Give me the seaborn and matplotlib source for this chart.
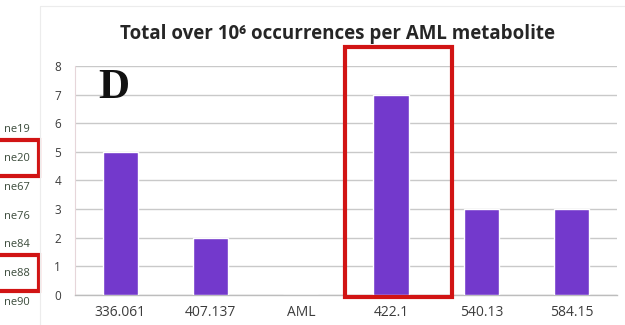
import matplotlib
matplotlib.use("Agg")
import matplotlib.pyplot as plt
import matplotlib.patches as mpatches
import numpy as np
import pandas as pd
import seaborn as sns

# Occurrence totals per AML metabolite (m/z)
metabolites = ["336.061", "407.137", "AML", "422.1", "540.13", "584.15"]
totals = [5, 2, 0, 7, 3, 3]
y_ticks = [0, 1, 2, 3, 4, 5, 6, 7, 8]

# Legend entries of the neighbouring panel (partly cut off at the left edge)
side_labels = ["ne19", "ne20", "ne67", "ne76", "ne84", "ne88", "ne90"]
side_highlight = ["ne20", "ne88"]
highlight_metabolite = "422.1"

BAR = "#7339cc"
RED = "#d11414"
GRID = "#c9c9c9"
TXT = "#3c3c3c"

sns.set_theme(style="white")
plt.rcParams["font.family"] = ["Open Sans", "DejaVu Sans"]

df = pd.DataFrame({"metabolite": metabolites, "total": totals})

fig = plt.figure(figsize=(6.25, 3.25), dpi=100)
ax = fig.add_axes([0.12, 0.0923, 0.867, 0.705])

sns.barplot(data=df, x="metabolite", y="total", color=BAR, saturation=1,
            width=0.39, ax=ax, zorder=3)

ax.set_ylim(0, 8)
ax.set_xlim(-0.5, len(metabolites) - 0.5)
ax.set_yticks(y_ticks)
ax.set_yticklabels([str(v) for v in y_ticks], fontsize=8.5, color=TXT)
ax.tick_params(axis="y", length=0, pad=10)
ax.tick_params(axis="x", length=0, pad=7, labelsize=10, labelcolor=TXT)
ax.set_xticks(range(len(metabolites)))
ax.set_xticks(np.arange(-0.5, len(metabolites), 1.0), minor=True)
ax.tick_params(axis="x", which="minor", length=3, color=GRID, direction="out")
ax.set_xlabel("")
ax.set_ylabel("")
ax.yaxis.grid(True, color=GRID, linewidth=1.0, zorder=0)
ax.set_axisbelow(True)
for side in ["top", "right"]:
    ax.spines[side].set_visible(False)
ax.spines["left"].set_color("#e6d6da")
ax.spines["left"].set_linewidth(0.8)
ax.spines["bottom"].set_color("#bdbdbd")
ax.spines["bottom"].set_linewidth(1.0)

# Chart frame
fig.add_artist(plt.Line2D([0.064, 0.064], [0.0, 0.982], transform=fig.transFigure,
                          color="#ececec", linewidth=0.8))
fig.add_artist(plt.Line2D([0.064, 1.0], [0.982, 0.982], transform=fig.transFigure,
                          color="#ececec", linewidth=0.8))

fig.text(0.54, 0.896, "Total over 10⁶ occurrences per AML metabolite",
         ha="center", va="center", fontsize=13.5, fontweight="bold", color="#262626",
         family=["Open Sans", "DejaVu Sans"])

fig.text(0.157, 0.698, "D", ha="left", va="baseline", fontsize=31,
         fontweight="bold", color="#111111", family=["Liberation Serif", "DejaVu Serif"])

# Highlight box around the selected metabolite
hi = metabolites.index(highlight_metabolite)
ax.add_patch(mpatches.Rectangle((hi - 0.51, -0.07), 1.18, 8.74, fill=False,
                                edgecolor=RED, linewidth=3.0, clip_on=False, zorder=5))

# Cut-off legend of the neighbouring panel
y0_px, step_px = 130, 28.7
for i, lab in enumerate(side_labels):
    ypx = y0_px + i * step_px
    yf = 1 - ypx / 325
    fig.text(30 / 625, yf, lab, ha="right", va="center", fontsize=8, color="#3a4a3a")
    if lab in side_highlight:
        fig.add_artist(mpatches.Rectangle((-0.01, 1 - (ypx + 17) / 325), 0.072,
                                          36 / 325, transform=fig.transFigure,
                                          fill=False, edgecolor=RED, linewidth=3.0))

fig.savefig("out.png", dpi=100)
